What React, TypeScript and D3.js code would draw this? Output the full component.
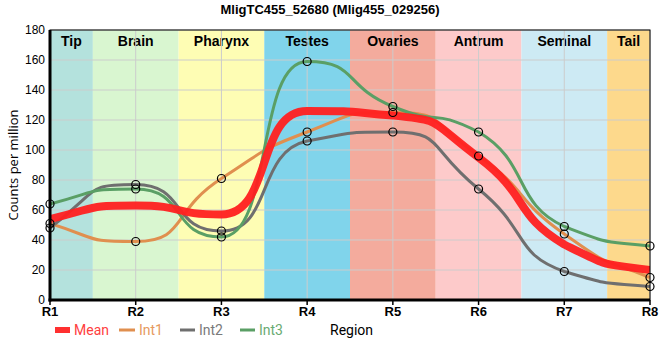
import React from "react";
import * as d3 from "d3";

const regions = ["R1", "R2", "R3", "R4", "R5", "R6", "R7", "R8"];
const tissues = ["Tip", "Brain", "Pharynx", "Testes", "Ovaries", "Antrum", "Seminal", "Tail"];
const tissueColors = ["#b4e2dd", "#d9f6d0", "#fefdb4", "#80d4eb", "#f4ab9d", "#fdcaca", "#cdeaf4", "#fdd98c"];
const meanValues = [54, 63, 57, 126, 123, 95, 37, 20];
const int1Values = [51, 39, 81, 112, 125, 96, 44, 15];
const int2Values = [48, 77, 46, 106, 112, 74, 19, 9];
const int3Values = [64, 74, 42, 159, 129, 112, 49, 36];
const yTicks = [0, 20, 40, 60, 80, 100, 120, 140, 160, 180];

const series = [
  { name: "Int1", values: int1Values, color: "#e08f4f" },
  { name: "Int2", values: int2Values, color: "#6f6f6f" },
  { name: "Int3", values: int3Values, color: "#5a9f65" },
];

const sign = (v: number) => (v < 0 ? -1 : 1);

// monotone tangents (as d3.curveMonotoneX) with longer bezier handles
function smoothPath(pts: [number, number][], k = 0.6): string {
  const n = pts.length;
  const m: number[] = new Array(n).fill(0);
  for (let i = 1; i < n - 1; i++) {
    const [x0, y0] = pts[i - 1], [x1, y1] = pts[i], [x2, y2] = pts[i + 1];
    const h0 = x1 - x0, h1 = x2 - x1;
    const s0 = (y1 - y0) / h0, s1 = (y2 - y1) / h1;
    const p = (s0 * h1 + s1 * h0) / (h0 + h1);
    m[i] = (sign(s0) + sign(s1)) * Math.min(Math.abs(s0), Math.abs(s1), 0.5 * Math.abs(p)) || 0;
  }
  {
    const h = pts[1][0] - pts[0][0];
    m[0] = (3 * (pts[1][1] - pts[0][1]) / h - m[1]) / 2;
    const hn = pts[n - 1][0] - pts[n - 2][0];
    m[n - 1] = (3 * (pts[n - 1][1] - pts[n - 2][1]) / hn - m[n - 2]) / 2;
  }
  const path = d3.path();
  path.moveTo(pts[0][0], pts[0][1]);
  for (let i = 0; i < n - 1; i++) {
    const [x0, y0] = pts[i], [x1, y1] = pts[i + 1];
    const dx = x1 - x0;
    const lo = Math.min(y0, y1), hi = Math.max(y0, y1);
    const c1y = Math.max(lo, Math.min(hi, y0 + k * dx * m[i]));
    const c2y = Math.max(lo, Math.min(hi, y1 - k * dx * m[i + 1]));
    path.bezierCurveTo(x0 + k * dx, c1y, x1 - k * dx, c2y, x1, y1);
  }
  return path.toString();
}

export default function App() {
  const W = 660, H = 360;
  const left = 50, right = 650, top = 30, bottom = 300;
  const x = d3.scalePoint<string>().domain(regions).range([left, right]);
  const step = x.step();
  const y = d3.scaleLinear().domain([0, 180]).range([bottom, top]);
  const toPts = (vals: number[]) => vals.map((v, i) => [x(regions[i]) as number, y(v)] as [number, number]);
  const font = "Liberation Sans, Arial, sans-serif";

  return (
    <svg width={W} height={H} style={{ position: "absolute", left: 0, top: 0 }}>
      <defs>
        <clipPath id="plot">
          <rect x={left} y={top} width={right - left} height={bottom - top} />
        </clipPath>
      </defs>
      <text x={330} y={14} textAnchor="middle" fontFamily={font} fontWeight="bold" fontSize={13}>
        MligTC455_52680 (Mlig455_029256)
      </text>
      {tissues.map((t, i) => {
        const cx = x(regions[i]) as number;
        const x0 = Math.max(left, cx - step / 2);
        const x1 = Math.min(right, cx + step / 2);
        return (
          <g key={t}>
            <rect x={x0} y={top} width={x1 - x0} height={bottom - top} fill={tissueColors[i]} />
            <text x={(x0 + x1) / 2} y={46} textAnchor="middle" fontFamily={font} fontWeight="bold" fontSize={14}>
              {t}
            </text>
          </g>
        );
      })}
      {yTicks.map((t) => (
        <g key={t}>
          <line x1={left} x2={right} y1={y(t)} y2={y(t)} stroke="#cccccc" strokeWidth={1} />
          <text x={45} y={y(t) + 4} textAnchor="end" fontFamily={font} fontSize={12}>
            {t}
          </text>
        </g>
      ))}
      {regions.map((r) => (
        <g key={r}>
          <line x1={x(r)} x2={x(r)} y1={top} y2={bottom} stroke="#cccccc" strokeWidth={1} />
          <line x1={x(r)} x2={x(r)} y1={bottom} y2={bottom + 5} stroke="#000" strokeWidth={1.5} />
          <text x={x(r)} y={316} textAnchor="middle" fontFamily={font} fontWeight="bold" fontSize={13}>
            {r}
          </text>
        </g>
      ))}
      <g clipPath="url(#plot)">
        {series.map((s) => (
          <path key={s.name} d={smoothPath(toPts(s.values))} fill="none" stroke={s.color} strokeWidth={3} />
        ))}
        <path d={smoothPath(toPts(meanValues))} fill="none" stroke="#ff2020" strokeOpacity={0.95} strokeWidth={8} />
      </g>
      {series.map((s) =>
        s.values.map((v, i) => (
          <circle key={s.name + i} cx={x(regions[i])} cy={y(v)} r={4} fill="none" stroke="#000" strokeWidth={1.2} />
        ))
      )}
      <rect x={left} y={top} width={right - left} height={bottom - top} fill="none" stroke="#000" strokeWidth={1} />
      <line x1={left} x2={left} y1={top} y2={bottom + 1.5} stroke="#000" strokeWidth={3} />
      <line x1={left - 1.5} x2={right} y1={bottom} y2={bottom} stroke="#000" strokeWidth={3} />
      <text transform={`translate(18,${(top + bottom) / 2}) rotate(-90)`} textAnchor="middle" fontFamily="Open Sans, sans-serif" fontSize={13}>
        Counts per million
      </text>
      <g fontFamily="Roboto, sans-serif" fontSize={14}>
        <rect x={55} y={327} width={15} height={6} fill="#ff3030" />
        <text x={74} y={335} fill="#ff4040">Mean</text>
        <line x1={119} x2={135} y1={330} y2={330} stroke="#e08f4f" strokeWidth={3} />
        <text x={139} y={335} fill="#e69a5e">Int1</text>
        <line x1={180} x2={195} y1={330} y2={330} stroke="#6f6f6f" strokeWidth={3} />
        <text x={199} y={335} fill="#7a7a7a">Int2</text>
        <line x1={240} x2={255} y1={330} y2={330} stroke="#5a9f65" strokeWidth={3} />
        <text x={259} y={335} fill="#6aab72">Int3</text>
        <text x={330} y={335} fill="#000">Region</text>
      </g>
    </svg>
  );
}
